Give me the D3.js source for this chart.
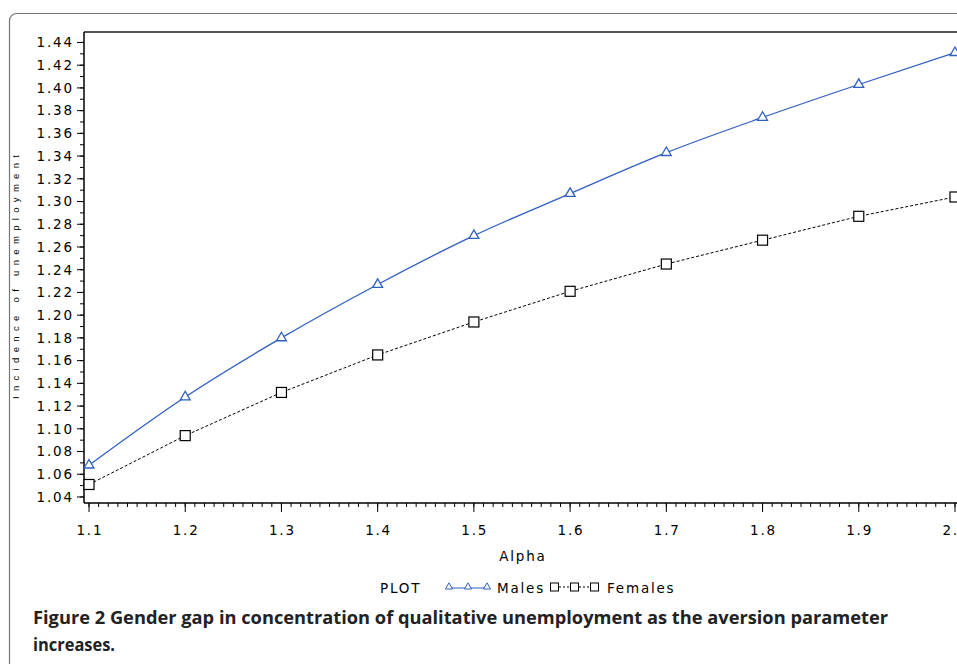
<!DOCTYPE html>
<html>
<head>
<meta charset="utf-8">
<script src="https://cdn.jsdelivr.net/npm/d3@7"></script>
<style>
  body { margin: 0; background: #fff; }
  svg { display: block; }
</style>
</head>
<body>
<script>
const alpha = [1.1, 1.2, 1.3, 1.4, 1.5, 1.6, 1.7, 1.8, 1.9, 2.0];
const males = [1.068, 1.128, 1.180, 1.227, 1.270, 1.307, 1.343, 1.374, 1.403, 1.431];
const females = [1.051, 1.094, 1.132, 1.165, 1.194, 1.221, 1.245, 1.266, 1.287, 1.304];
const yTicks = [1.04, 1.06, 1.08, 1.10, 1.12, 1.14, 1.16, 1.18, 1.20, 1.22, 1.24, 1.26, 1.28, 1.30, 1.32, 1.34, 1.36, 1.38, 1.40, 1.42, 1.44];
const xTicks = [1.1, 1.2, 1.3, 1.4, 1.5, 1.6, 1.7, 1.8, 1.9, 2.0];

const width = 957, height = 664;
const plotL = 84, plotR = 960, plotT = 32, plotB = 503;

const svg = d3.select("body")
    .append("svg")
    .attr("width", width)
    .attr("height", height);

// outer figure frame
svg.append("rect")
    .attr("x", 9.5).attr("y", 13.5)
    .attr("width", 980).attr("height", 700)
    .attr("rx", 7)
    .attr("fill", "none")
    .attr("stroke", "#777")
    .attr("stroke-width", 1.2);

const x = d3.scaleLinear().domain([1.0948, 2.0052]).range([plotL, plotR]);
const y = d3.scaleLinear().domain([1.0347, 1.4492]).range([plotB, plotT]);

const font = "'DejaVu Sans', Verdana, sans-serif";
const fs = 13.5, ls = 1.8;

// plot top border
svg.append("line")
    .attr("x1", plotL).attr("x2", plotR)
    .attr("y1", plotT).attr("y2", plotT)
    .attr("stroke", "#555").attr("stroke-width", 2);

// y axis
const yMinor = d3.range(1.04, 1.445, 0.01).map(d => +d.toFixed(2));
const yAxisG = svg.append("g").attr("transform", `translate(${plotL},0)`);
yAxisG.append("line")
    .attr("x1", 0).attr("x2", 0).attr("y1", plotT).attr("y2", plotB)
    .attr("stroke", "#000").attr("stroke-width", 1.5);
yAxisG.selectAll("line.minor")
    .data(yMinor)
    .enter().append("line")
    .attr("class", "minor")
    .attr("x1", -4).attr("x2", 0)
    .attr("y1", d => y(d)).attr("y2", d => y(d))
    .attr("stroke", "#000");
yAxisG.selectAll("line.major")
    .data(yTicks)
    .enter().append("line")
    .attr("class", "major")
    .attr("x1", -7).attr("x2", 0)
    .attr("y1", d => y(d)).attr("y2", d => y(d))
    .attr("stroke", "#000");
yAxisG.selectAll("text")
    .data(yTicks)
    .enter().append("text")
    .attr("x", -12 + ls)
    .attr("y", d => y(d))
    .attr("dy", "0.36em")
    .attr("text-anchor", "end")
    .attr("font-family", font)
    .attr("font-size", fs)
    .attr("letter-spacing", ls)
    .text(d => d.toFixed(2));

// x axis
const xMinor = d3.range(1.1, 2.005, 0.01).map(d => +d.toFixed(2));
const xAxisG = svg.append("g").attr("transform", `translate(0,${plotB})`);
xAxisG.append("line")
    .attr("x1", plotL).attr("x2", plotR).attr("y1", 0).attr("y2", 0)
    .attr("stroke", "#000").attr("stroke-width", 1.5);
xAxisG.selectAll("line.minor")
    .data(xMinor)
    .enter().append("line")
    .attr("class", "minor")
    .attr("x1", d => x(d)).attr("x2", d => x(d))
    .attr("y1", 0).attr("y2", 4)
    .attr("stroke", "#000");
xAxisG.selectAll("line.major")
    .data(xTicks)
    .enter().append("line")
    .attr("class", "major")
    .attr("x1", d => x(d)).attr("x2", d => x(d))
    .attr("y1", 0).attr("y2", 9)
    .attr("stroke", "#000");
xAxisG.selectAll("text")
    .data(xTicks)
    .enter().append("text")
    .attr("x", d => x(d) + ls / 2)
    .attr("y", 32)
    .attr("text-anchor", "middle")
    .attr("font-family", font)
    .attr("font-size", fs)
    .attr("letter-spacing", ls)
    .text(d => d.toFixed(1));

// axis titles
svg.append("text")
    .attr("x", (plotL + plotR) / 2 + ls / 2)
    .attr("y", 561)
    .attr("text-anchor", "middle")
    .attr("font-family", font)
    .attr("font-size", fs)
    .attr("letter-spacing", ls)
    .text("Alpha");

svg.append("text")
    .attr("transform", "translate(19,399) rotate(-90)")
    .attr("x", 0).attr("y", 0)
    .attr("font-family", "'Liberation Sans', Arial, sans-serif")
    .attr("font-size", 9.5)
    .attr("textLength", 244)
    .attr("lengthAdjust", "spacing")
    .text("Incidence of unemployment");

// series
const malesData = alpha.map((a, i) => ({x: a, y: males[i]}));
const femalesData = alpha.map((a, i) => ({x: a, y: females[i]}));

const lineM = d3.line()
    .x(d => x(d.x))
    .y(d => y(d.y))
    .curve(d3.curveMonotoneX);
const lineF = d3.line()
    .x(d => x(d.x))
    .y(d => y(d.y));

const blue = "#2f5fbf";

svg.append("path")
    .attr("fill", "none")
    .attr("stroke", "#000")
    .attr("stroke-width", 1)
    .attr("stroke-dasharray", "3,2")
    .attr("d", lineF(femalesData));

svg.append("path")
    .attr("fill", "none")
    .attr("stroke", blue)
    .attr("stroke-width", 1.3)
    .attr("d", lineM(malesData));

const tri = d3.symbol().type(d3.symbolTriangle).size(42);

svg.selectAll("path.tri")
    .data(malesData)
    .enter().append("path")
    .attr("class", "tri")
    .attr("transform", d => `translate(${x(d.x)},${y(d.y)})`)
    .attr("d", tri())
    .attr("fill", "#fff")
    .attr("stroke", blue)
    .attr("stroke-width", 1.3);

svg.selectAll("rect.sq")
    .data(femalesData)
    .enter().append("rect")
    .attr("class", "sq")
    .attr("x", d => x(d.x) - 5)
    .attr("y", d => y(d.y) - 5)
    .attr("width", 10).attr("height", 10)
    .attr("fill", "#fff")
    .attr("stroke", "#000")
    .attr("stroke-width", 1.2);

// legend
const legY = 588;
const legText = (x0, s) => svg.append("text")
    .attr("x", x0).attr("y", legY + 5)
    .attr("font-family", font)
    .attr("font-size", fs)
    .attr("letter-spacing", ls)
    .text(s);

legText(380, "PLOT");

svg.append("line")
    .attr("x1", 447).attr("x2", 490)
    .attr("y1", legY).attr("y2", legY)
    .attr("stroke", blue).attr("stroke-width", 1.2);
const legTri = [449, 468, 487];
const tiny = d3.symbol().type(d3.symbolTriangle).size(22);
svg.selectAll("path.legtri")
    .data(legTri)
    .enter().append("path")
    .attr("class", "legtri")
    .attr("transform", d => `translate(${d},${legY - 1})`)
    .attr("d", tiny())
    .attr("fill", "#fff")
    .attr("stroke", blue);
legText(497, "Males");

svg.append("line")
    .attr("x1", 551).attr("x2", 597)
    .attr("y1", legY - 1).attr("y2", legY - 1)
    .attr("stroke", "#000").attr("stroke-dasharray", "2,2");
const legSq = [554, 574, 594];
svg.selectAll("rect.legsq")
    .data(legSq)
    .enter().append("rect")
    .attr("class", "legsq")
    .attr("x", d => d - 3.5).attr("y", legY - 5)
    .attr("width", 8).attr("height", 8)
    .attr("fill", "#fff")
    .attr("stroke", "#000");
legText(607, "Females");

// caption
const capFont = "'Open Sans', 'Noto Sans', sans-serif";
svg.append("text")
    .attr("x", 33).attr("y", 624)
    .attr("font-family", capFont)
    .attr("font-size", 17)
    .attr("font-weight", "bold")
    .attr("textLength", 855)
    .attr("lengthAdjust", "spacingAndGlyphs")
    .attr("fill", "#222")
    .text("Figure 2 Gender gap in concentration of qualitative unemployment as the aversion parameter");
svg.append("text")
    .attr("x", 33).attr("y", 651)
    .attr("font-family", capFont)
    .attr("font-size", 17)
    .attr("font-weight", "bold")
    .attr("textLength", 82)
    .attr("lengthAdjust", "spacingAndGlyphs")
    .attr("fill", "#222")
    .text("increases.");
</script>
</body>
</html>
